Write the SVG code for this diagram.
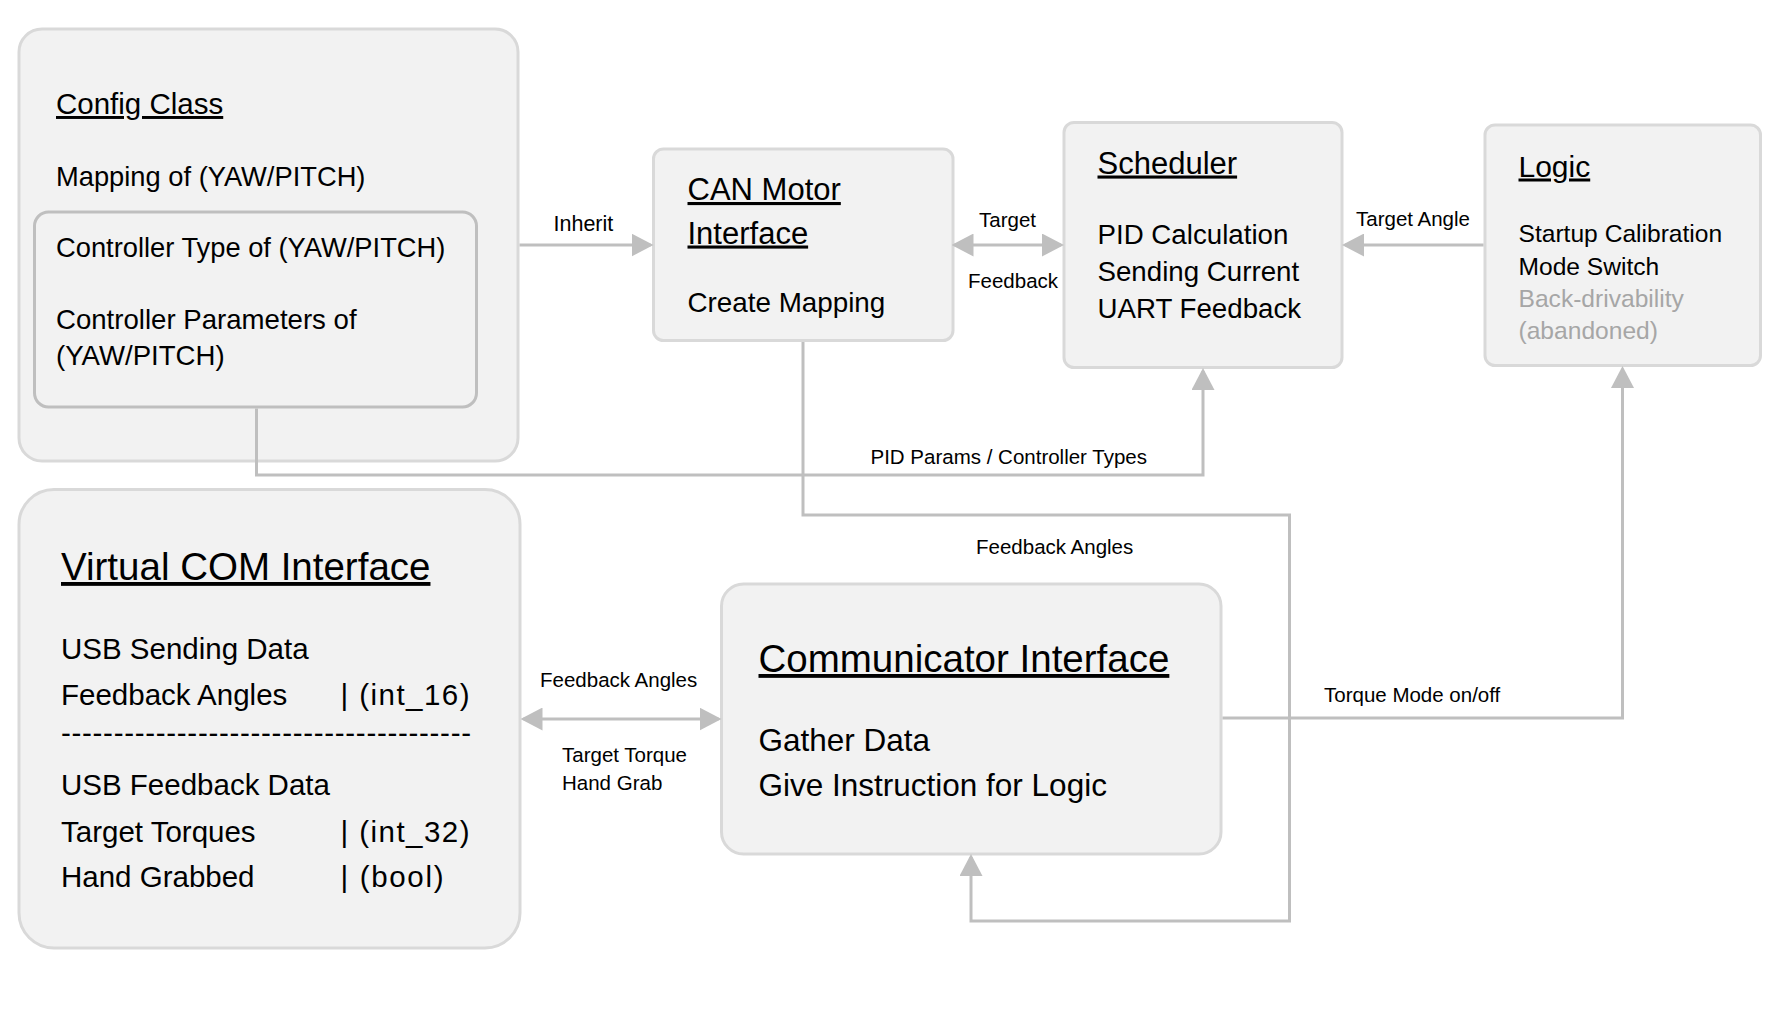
<svg xmlns="http://www.w3.org/2000/svg" width="1786" height="1022" viewBox="0 0 1786 1022">
  <style>
    text { font-family: "Liberation Sans", Arial, sans-serif; fill: #000; }
    .box { fill: #f2f2f2; stroke: #d9d9d9; stroke-width: 3; }
    .inner { fill: #f2f2f2; stroke: #bfbfbf; stroke-width: 3; }
    .conn { fill: none; stroke: #bfbfbf; stroke-width: 3; }
    .title { text-decoration: underline; text-decoration-skip-ink: none; }
    .lbl { font-size: 20.5px; }
    .grey { fill: #a6a6a6; }
  </style>
  <defs>
    <marker id="arr" markerUnits="userSpaceOnUse" markerWidth="22" markerHeight="23" refX="19" refY="11.5" orient="auto-start-reverse">
      <path d="M0,0 L22,11.5 L0,23 Z" fill="#bfbfbf"/>
    </marker>
  </defs>
  <rect width="1786" height="1022" fill="#ffffff"/>

  <g id="config-class">
    <rect class="box" x="19" y="29" width="499" height="432" rx="23"/>
    <text class="title" x="56" y="114" style="font-size:29.5px">Config Class</text>
    <text x="56" y="186" style="font-size:27.3px">Mapping of (YAW/PITCH)</text>
    <g id="controller-settings">
      <rect class="inner" x="34.5" y="212" width="442" height="195" rx="14"/>
      <text x="56" y="257" style="font-size:27.3px">Controller Type of (YAW/PITCH)</text>
      <text x="56" y="328.5" style="font-size:27.6px">Controller Parameters of</text>
      <text x="56" y="365" style="font-size:27.6px">(YAW/PITCH)</text>
    </g>
  </g>

  <g id="can-motor-interface">
    <rect class="box" x="653.5" y="149" width="299.5" height="191.5" rx="10"/>
    <text class="title" x="687.5" y="200" style="font-size:31px">CAN Motor</text>
    <text class="title" x="687.5" y="243.5" style="font-size:31px">Interface</text>
    <text x="687.5" y="311.5" style="font-size:27.8px">Create Mapping</text>
  </g>

  <g id="scheduler">
    <rect class="box" x="1064" y="122.5" width="278" height="245" rx="10"/>
    <text class="title" x="1097.5" y="173.5" style="font-size:31px">Scheduler</text>
    <text x="1097.5" y="244" style="font-size:27.7px">PID Calculation</text>
    <text x="1097.5" y="281" style="font-size:27.7px">Sending Current</text>
    <text x="1097.5" y="318" style="font-size:27.7px">UART Feedback</text>
  </g>

  <g id="logic">
    <rect class="box" x="1485" y="125" width="275.5" height="240.5" rx="10"/>
    <text class="title" x="1518.5" y="176.5" style="font-size:30px">Logic</text>
    <text x="1518.5" y="241.5" style="font-size:24.6px">Startup Calibration</text>
    <text x="1518.5" y="274.5" style="font-size:24.6px">Mode Switch</text>
    <text class="grey" x="1518.5" y="306.5" style="font-size:24.6px">Back-drivability</text>
    <text class="grey" x="1518.5" y="338.5" style="font-size:24.6px">(abandoned)</text>
  </g>

  <g id="virtual-com-interface">
    <rect class="box" x="19" y="489.5" width="501" height="458.5" rx="35"/>
    <text class="title" x="61" y="580" style="font-size:38.5px">Virtual COM Interface</text>
    <text x="61" y="659" style="font-size:29.5px">USB Sending Data</text>
    <text x="61" y="705" style="font-size:29.5px">Feedback Angles</text>
    <text x="340.5" y="705" style="font-size:29.5px" textLength="129">| (int_16)</text>
    <text x="61" y="743" style="font-size:29.5px" textLength="410">---------------------------------------</text>
    <text x="61" y="795" style="font-size:29.5px">USB Feedback Data</text>
    <text x="61" y="841.5" style="font-size:29.5px">Target Torques</text>
    <text x="340.5" y="841.5" style="font-size:29.5px" textLength="129">| (int_32)</text>
    <text x="61" y="886.5" style="font-size:29.5px">Hand Grabbed</text>
    <text x="340.5" y="886.5" style="font-size:29.5px" textLength="103">| (bool)</text>
  </g>

  <g id="communicator-interface">
    <rect class="box" x="721.5" y="584" width="499.5" height="270" rx="22"/>
    <text class="title" x="758.5" y="672" style="font-size:38.5px">Communicator Interface</text>
    <text x="758.5" y="751" style="font-size:31.5px">Gather Data</text>
    <text x="758.5" y="796" style="font-size:31.5px">Give Instruction for Logic</text>
  </g>

  <g id="connectors">
    <path class="conn" d="M519.5,245 L650.5,245" marker-end="url(#arr)"/>
    <path class="conn" d="M954.5,245 L1061,245" marker-start="url(#arr)" marker-end="url(#arr)"/>
    <path class="conn" d="M1483.5,245 L1345,245" marker-end="url(#arr)"/>
    <path class="conn" d="M256.5,408.5 V475 H1203 V371" marker-end="url(#arr)"/>
    <path class="conn" d="M803,342 V515 H1289.5 V921 H971 V857" marker-end="url(#arr)"/>
    <path class="conn" d="M1222.5,718 H1622.5 V369" marker-end="url(#arr)"/>
    <path class="conn" d="M523.5,719 L718.5,719" marker-start="url(#arr)" marker-end="url(#arr)"/>
    <text class="lbl" x="553.5" y="231" style="font-size:21.5px">Inherit</text>
    <text class="lbl" x="979" y="226.5">Target</text>
    <text class="lbl" x="968" y="287.5">Feedback</text>
    <text class="lbl" x="1356" y="226">Target Angle</text>
    <text class="lbl" x="870.5" y="463.5">PID Params / Controller Types</text>
    <text class="lbl" x="976" y="554">Feedback Angles</text>
    <text class="lbl" x="540" y="687">Feedback Angles</text>
    <text class="lbl" x="562" y="762">Target Torque</text>
    <text class="lbl" x="562" y="790">Hand Grab</text>
    <text class="lbl" x="1324" y="702">Torque Mode on/off</text>
  </g>
</svg>
